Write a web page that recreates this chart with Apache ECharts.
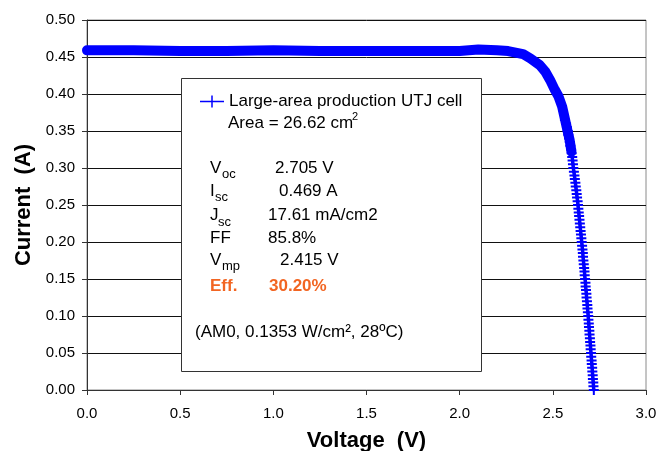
<!DOCTYPE html>
<html>
<head>
<meta charset="utf-8">
<script src="https://cdn.jsdelivr.net/npm/echarts@6/dist/echarts.min.js"></script>
<style>
html,body{margin:0;padding:0;background:#fff;}
#chart{width:656px;height:451px;}
</style>
</head>
<body>
<div id="chart"></div>
<script>
// Flat part and knee of the I-V curve (voltage V, current A)
const bandV = [0.00, 0.25, 0.50, 0.75, 1.00, 1.25, 1.50, 1.75, 2.00, 2.10, 2.20, 2.26, 2.30, 2.34, 2.38, 2.43, 2.46, 2.485, 2.51, 2.53, 2.55, 2.565, 2.58, 2.59, 2.60];
const bandI = [0.459, 0.459, 0.458, 0.458, 0.459, 0.458, 0.458, 0.458, 0.458, 0.460, 0.459, 0.458, 0.456, 0.454, 0.448, 0.439, 0.430, 0.419, 0.406, 0.397, 0.383, 0.366, 0.349, 0.338, 0.322];
// Steep tail (markers visible)
const tailI = [0.365,0.360,0.355,0.350,0.345,0.340,0.335,0.330,0.325,0.320,0.315,0.310,0.305,0.300,0.295,0.290,0.285,0.280,0.275,0.270,0.265,0.260,0.255,0.250,0.245,0.240,0.235,0.230,0.225,0.220,0.215,0.210,0.205,0.200,0.195,0.190,0.185,0.180,0.175,0.170,0.165,0.160,0.155,0.150,0.145,0.140,0.135,0.130,0.125,0.120,0.115,0.110,0.105,0.100,0.095,0.090,0.085,0.080,0.075,0.070,0.065,0.060,0.055,0.050,0.045,0.040,0.035,0.030,0.025,0.020,0.015,0.010,0.005,0.000];
const tailV = [2.565,2.571,2.576,2.580,2.583,2.587,2.591,2.594,2.598,2.601,2.604,2.606,2.608,2.610,2.613,2.616,2.618,2.621,2.623,2.626,2.628,2.630,2.633,2.635,2.637,2.639,2.641,2.643,2.645,2.647,2.649,2.651,2.653,2.655,2.657,2.659,2.661,2.662,2.664,2.666,2.668,2.670,2.671,2.673,2.675,2.676,2.678,2.680,2.681,2.683,2.685,2.686,2.688,2.690,2.691,2.693,2.694,2.696,2.697,2.699,2.700,2.702,2.703,2.705,2.706,2.708,2.709,2.711,2.712,2.714,2.715,2.717,2.718,2.720];
const seriesName = 'Large-area production UTJ cell';
const xTicks = {min: 0, max: 3, step: 0.5};
const yTicks = {min: 0, max: 0.5, step: 0.05};

const FONT = '"Liberation Sans", Arial, sans-serif';
const plus = 'path://M4,0h2v10h-2z M0,4h10v2h-10z';
const chart = echarts.init(document.getElementById('chart'), null, {renderer: 'canvas'});

function txt(x, baseline, text, size, opts) {
  opts = opts || {};
  return {
    type: 'text', x: x, y: baseline - 0.35 * size, z: 20,
    style: {
      text: text, fill: opts.color || '#000',
      font: (opts.bold ? 'bold ' : '') + size + 'px ' + FONT,
      align: 'left', verticalAlign: 'middle'
    }
  };
}

const graphics = [
  {type: 'rect', z: 5, shape: {x: 181.5, y: 78.5, width: 300, height: 293},
   style: {fill: '#fff', stroke: '#333', lineWidth: 1}},
  txt(228, 129, 'Area = 26.62 cm', 17),
  txt(352, 121, '2', 11),
  txt(210, 174, 'V', 17), txt(222, 179, 'oc', 13), txt(275, 174, '2.705 V', 17),
  txt(210, 197, 'I', 17), txt(215, 202, 'sc', 13), txt(279, 197, '0.469 A', 17),
  txt(210, 221.5, 'J', 17), txt(218, 226.5, 'sc', 13), txt(268, 221.5, '17.61 mA/cm2', 17),
  txt(210, 244, 'FF', 17), txt(268, 244, '85.8%', 17),
  txt(210, 266, 'V', 17), txt(222, 271, 'mp', 13), txt(280, 266, '2.415 V', 17),
  txt(210, 292, 'Eff.', 17, {bold: true, color: '#f26522'}),
  txt(269, 292, '30.20%', 17, {bold: true, color: '#f26522'}),
  txt(195, 338, '(AM0, 0.1353 W/cm\u00B2, 28\u00BAC)', 17)
];

const option = {
  animation: false,
  backgroundColor: '#fff',
  grid: {left: 87, top: 20, width: 559, height: 370, show: true, borderColor: '#8a8a8a', borderWidth: 1,
         backgroundColor: 'transparent', containLabel: false, outerBoundsMode: 'none'},
  legend: {
    data: [{name: seriesName, icon: 'path://M0,5.25h24v1.5h-24z M11.25,0h1.5v12h-1.5z'}],
    left: 200, top: 93, padding: 0, itemWidth: 24, itemHeight: 12, itemGap: 5, z: 20,
    textStyle: {fontFamily: FONT, fontSize: 17, color: '#000'},
    selectedMode: false
  },
  xAxis: {
    type: 'value', min: xTicks.min, max: xTicks.max, interval: xTicks.step,
    name: 'Voltage  (V)', nameLocation: 'middle', nameGap: 40,
    nameTextStyle: {fontFamily: FONT, fontSize: 22, fontWeight: 'bold', color: '#000'},
    axisLine: {lineStyle: {color: '#333', width: 1}},
    axisTick: {show: true, inside: false, length: 5, lineStyle: {color: '#333'}},
    axisLabel: {formatter: v => v.toFixed(1), fontFamily: FONT, fontSize: 15, color: '#000', margin: 16},
    splitLine: {show: false}
  },
  yAxis: {
    type: 'value', min: yTicks.min, max: yTicks.max, interval: yTicks.step,
    name: 'Current  (A)', nameLocation: 'middle', nameGap: 46,
    nameTextStyle: {fontFamily: FONT, fontSize: 22, fontWeight: 'bold', color: '#000'},
    axisLine: {show: true, lineStyle: {color: '#333', width: 1}},
    axisTick: {show: true, inside: false, length: 5, lineStyle: {color: '#333'}},
    axisLabel: {formatter: v => v.toFixed(2), fontFamily: FONT, fontSize: 15, color: '#000', margin: 12},
    splitLine: {show: true, lineStyle: {color: '#111', width: 1}}
  },
  graphic: graphics,
  series: [
    {
      name: seriesName, type: 'line', z: 3,
      data: bandV.map((v, i) => [v, bandI[i]]),
      showSymbol: false, symbol: 'none',
      lineStyle: {color: '#0000ff', width: 10, cap: 'round', join: 'round'},
      itemStyle: {color: '#0000ff'}
    },
    {
      name: seriesName, type: 'line', z: 3,
      data: tailV.map((v, i) => [v, tailI[i]]),
      symbol: plus, symbolSize: 10, showSymbol: true,
      lineStyle: {color: '#0000ff', width: 3.5},
      itemStyle: {color: '#0000ff'}
    }
  ]
};
chart.setOption(option);
</script>
</body>
</html>
